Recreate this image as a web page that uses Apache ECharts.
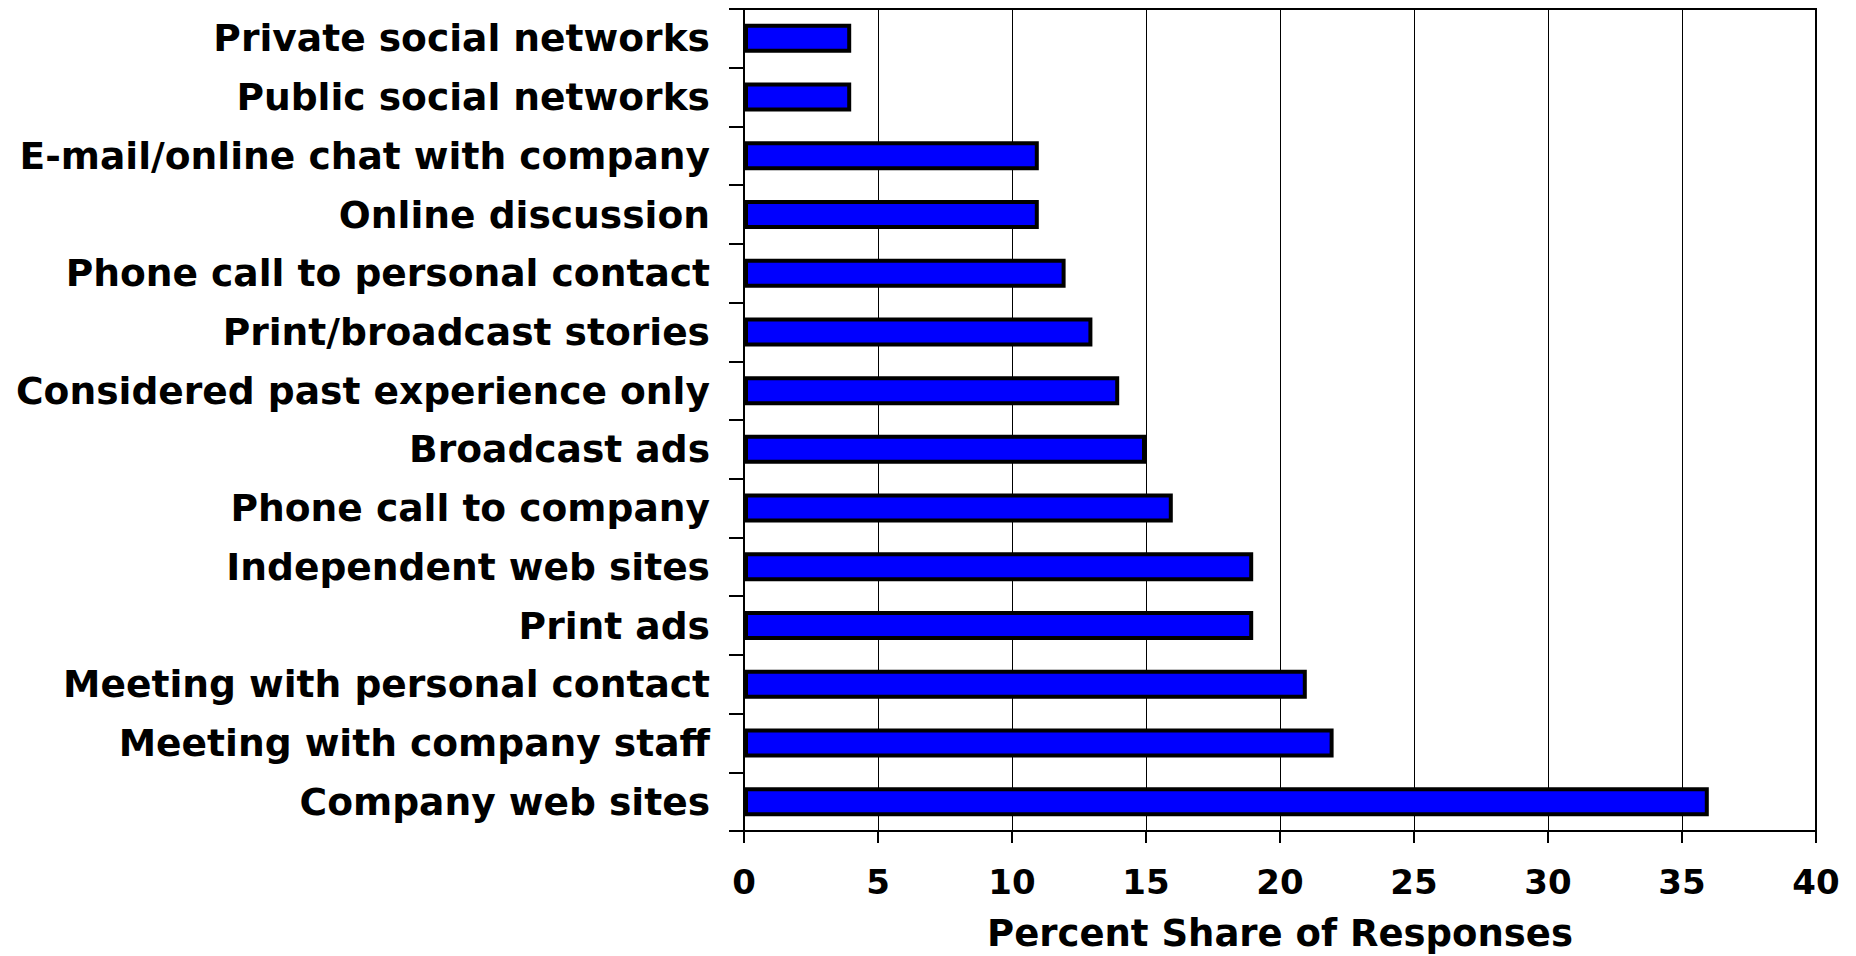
<!DOCTYPE html>
<html>
<head>
<meta charset="utf-8">
<script src="https://cdn.jsdelivr.net/npm/echarts@6/dist/echarts.min.js"></script>
<style>
html,body{margin:0;padding:0;background:#fff;}
#chart{width:1856px;height:956px;}
</style>
</head>
<body>
<div id="chart"></div>
<script>
// Categories listed bottom to top (ECharts draws the first category at the bottom)
const categories = [
  "Company web sites",
  "Meeting with company staff",
  "Meeting with personal contact",
  "Print ads",
  "Independent web sites",
  "Phone call to company",
  "Broadcast ads",
  "Considered past experience only",
  "Print/broadcast stories",
  "Phone call to personal contact",
  "Online discussion",
  "E-mail/online chat with company",
  "Public social networks",
  "Private social networks"
];
const shares = [36, 22, 21, 19, 19, 16, 15, 14, 13, 12, 11, 11, 4, 4];
const xTicks = [0, 5, 10, 15, 20, 25, 30, 35, 40];
const xTitle = "Percent Share of Responses";

const FONT = "DejaVu Sans";
const chart = echarts.init(document.getElementById('chart'), null, {renderer: 'svg'});
chart.setOption({
  animation: false,
  backgroundColor: '#ffffff',
  grid: {
    left: 744, right: 40, top: 9, bottom: 125,
    outerBoundsMode: 'none',
    containLabel: false,
    show: true, borderColor: '#000', borderWidth: 2, backgroundColor: 'transparent'
  },
  xAxis: {
    type: 'value',
    min: xTicks[0], max: xTicks[xTicks.length - 1], interval: 5,
    name: xTitle,
    nameLocation: 'middle',
    nameGap: 83,
    nameTextStyle: {fontFamily: FONT, fontWeight: 'bold', fontSize: 37, lineHeight: 38, color: '#000'},
    axisLine: {show: true, lineStyle: {color: '#000', width: 2}},
    axisTick: {show: true, length: 12, lineStyle: {color: '#000', width: 2}},
    axisLabel: {margin: 34, fontFamily: FONT, fontWeight: 'bold', fontSize: 34, color: '#000'},
    splitLine: {show: true, lineStyle: {color: '#000', width: 1}}
  },
  yAxis: {
    type: 'category',
    data: categories,
    axisLine: {show: true, lineStyle: {color: '#000', width: 2}},
    axisTick: {show: true, length: 15, lineStyle: {color: '#000', width: 2}},
    axisLabel: {margin: 34, fontFamily: FONT, fontWeight: 'bold', fontSize: 37.6, color: '#000'},
    splitLine: {show: false}
  },
  series: [{
    type: 'bar',
    data: shares,
    barWidth: 29,
    itemStyle: {color: '#0000ff', borderColor: '#000', borderWidth: 4}
  }]
});
</script>
</body>
</html>
